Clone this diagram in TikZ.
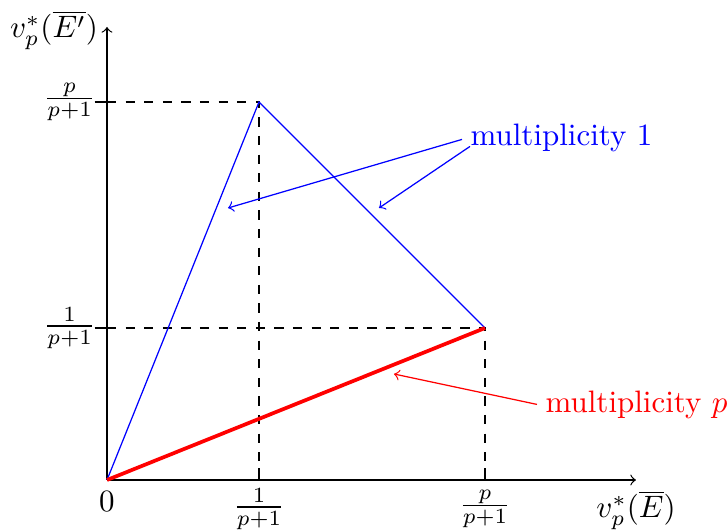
\documentclass[tikz,border=0pt]{standalone}
\usepackage{amsmath}
\begin{document}
\begin{tikzpicture}[x=0.3226pt,y=-0.3226pt,
  axis/.style={->,black},
  guide/.style={dashed,black},
  tick/.style={black},
  bluel/.style={blue},
  redl/.style={red,very thick},
  lab/.style={inner sep=0pt}]
\useasboundingbox (0,0) rectangle (728,531);
% key points
\coordinate (O) at (107,480);
\coordinate (A) at (259,102);
\coordinate (B) at (485,328);
\coordinate (Xend) at (636,480);
\coordinate (Yend) at (107,27);
\coordinate (YA) at (107,102);
\coordinate (YB) at (107,328);
\coordinate (XA) at (259,480);
\coordinate (XB) at (485,480);
% guides
\draw[guide] (YA) -- (A) -- (XA);
\draw[guide] (YB) -- (B) -- (XB);
% ticks
\draw[tick] ([xshift=-4]YA) -- (YA);
\draw[tick] ([xshift=-4]YB) -- (YB);
\draw[tick] (XA) -- ([yshift=4]XA);
\draw[tick] (XB) -- ([yshift=4]XB);
% axes
\draw[axis] (O) -- (Xend);
\draw[axis] (O) -- (Yend);
% curves
\draw[bluel] (O) -- (A) -- (B);
\draw[redl] (O) -- (B);
% labels
\node[lab] (ylab) at (54,30) {$v_p^*(\overline{E'})$};
\node[lab] (xlab) at (636,510) {$v_p^*(\overline{E})$};
\node[lab] (zero) at (107,502) {$0$};
\node[lab] (xa) at (259,509) {$\frac{1}{p+1}$};
\node[lab] (xb) at (485,509) {$\frac{p}{p+1}$};
\node[lab,anchor=east] (ya) at (96,102) {$\frac{p}{p+1}$};
\node[lab,anchor=east] (yb) at (96,328) {$\frac{1}{p+1}$};
% annotations
\node[lab,blue,anchor=base west] (m1) at (470,146) {multiplicity 1};
\node[lab,red,anchor=base west] (mp) at (545,413) {multiplicity $p$};
\coordinate (t1) at (228,208);
\coordinate (t2) at (379,208);
\coordinate (t3) at (394,374);
\draw[->,blue] ([shift={(-8,1)}]m1.west) -- (t1);
\draw[->,blue] ([shift={(0,8)}]m1.west) -- (t2);
\draw[->,red] ([shift={(-8,-1)}]mp.west) -- (t3);
\end{tikzpicture}
\end{document}
